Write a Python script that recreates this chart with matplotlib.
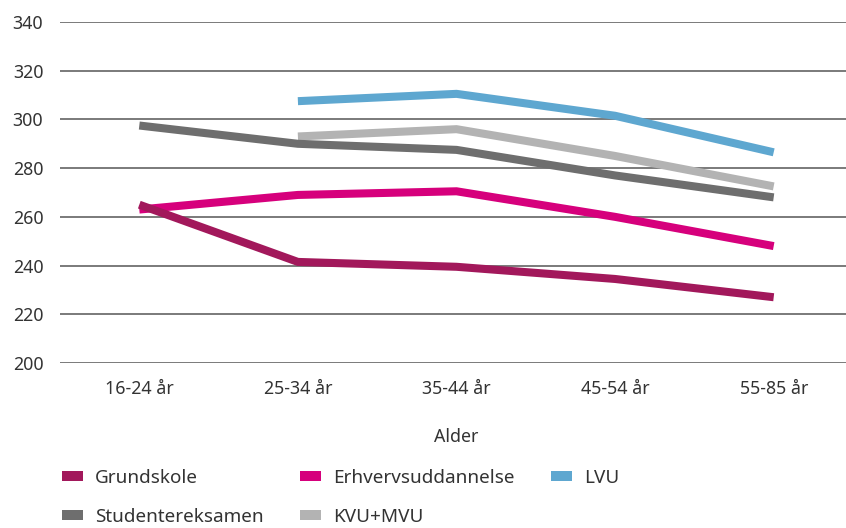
import matplotlib
matplotlib.use('Agg')
import matplotlib.pyplot as plt
from matplotlib.patches import Patch
import numpy as np

plt.rcParams['font.family'] = ['Noto Sans', 'DejaVu Sans']

ages = ['16-24 år', '25-34 år', '35-44 år', '45-54 år', '55-85 år']

grundskole = [265, 241.5, 239.5, 234.5, 227]
erhverv = [263, 269, 270.5, 260, 248]
lvu = [np.nan, 307.5, 310.5, 301.5, 286.5]
student = [297.5, 290, 287.5, 277, 268]
kvu_mvu = [np.nan, 293, 296, 285, 272.5]

series = [
    ('Grundskole', grundskole, '#a2185b'),
    ('Erhvervsuddannelse', erhverv, '#d6007c'),
    ('LVU', lvu, '#5ea7d0'),
    ('Studentereksamen', student, '#6e6e6e'),
    ('KVU+MVU', kvu_mvu, '#b3b3b3'),
]

fig = plt.figure(figsize=(8.46, 5.28), dpi=100)
ax = fig.add_axes([60 / 846, 1 - 363 / 528, 793 / 846, 341 / 528])

x = np.arange(len(ages))
# draw back to front so Grundskole ends on top
for name, vals, col in reversed(series):
    ax.plot(x, vals, color=col, lw=5.8, solid_capstyle='butt', solid_joinstyle='miter')

ax.set_xlim(-0.5, len(ages) - 0.5)
ax.set_ylim(200, 340)
ax.set_yticks(range(200, 341, 20))
ax.set_xticks(x)
ax.set_xticklabels(ages)
ax.grid(axis='y', color='#6f6f6f', lw=1.3)
ax.set_axisbelow(True)
for s in ax.spines.values():
    s.set_visible(False)
ax.tick_params(axis='both', length=0, labelsize=12.8, colors='#333333')
ax.tick_params(axis='y', pad=12)
ax.tick_params(axis='x', pad=12)
ax.set_xlabel('Alder', fontsize=12.8, color='#333333', labelpad=22)

order = ['Grundskole', 'Studentereksamen', 'Erhvervsuddannelse', 'KVU+MVU', 'LVU']
cmap = {n: c for n, _, c in series}
handles = [Patch(facecolor=cmap[n], label=n) for n in order]
fig.legend(handles=handles, loc='upper left', bbox_to_anchor=(45 / 846, 1 - 452 / 528),
           ncol=3, frameon=False, fontsize=13.6, handlelength=1.11, handleheight=0.45,
           handletextpad=0.63, columnspacing=1.93, labelspacing=1.1, labelcolor='#333333')

fig.savefig('out.png', dpi=100)
